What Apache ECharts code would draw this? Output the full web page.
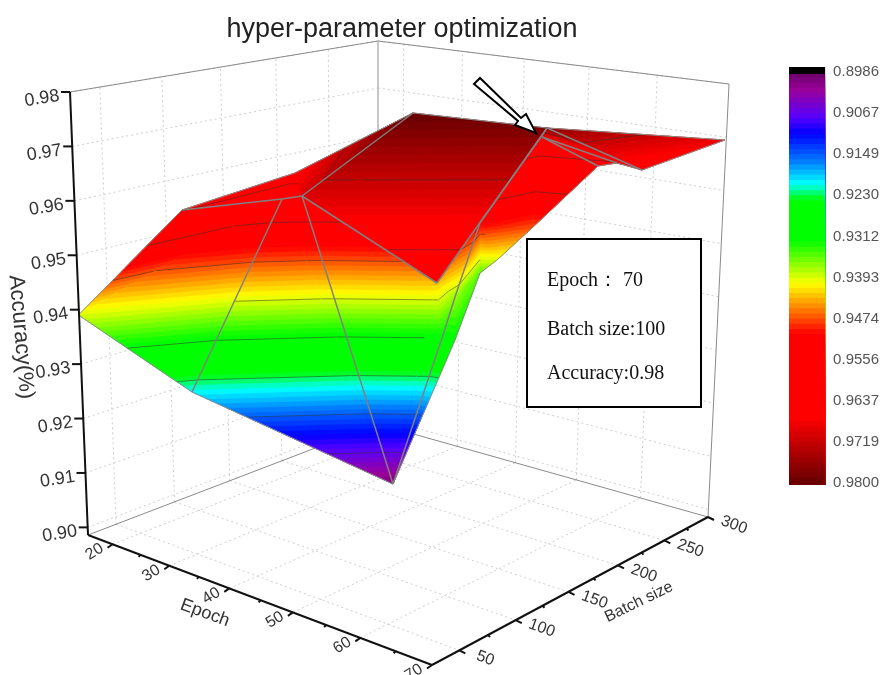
<!DOCTYPE html><html><head><meta charset="utf-8"><style>html,body{margin:0;background:#fff}#c{width:882px;height:675px}</style>
<script src="https://cdn.jsdelivr.net/npm/echarts@6/dist/echarts.min.js"></script></head><body><div id="c"></div><script>
// ---- data ----
const epochTicks=[20,30,40,50,60,70];
const epochMinor=[25,35,45,55,65];
const batchTicks=[50,100,150,200,250,300];
const batchMinor=[75,125,175,225,275];
const accTicks=[0.90,0.91,0.92,0.93,0.94,0.95,0.96,0.97,0.98];
const barTicks=[0.8986,0.9067,0.9149,0.9230,0.9312,0.9393,0.9474,0.9556,0.9637,0.9719,0.9800];
// surface vertices
const vEpoch=[15.95,36.90,37.00,54.29,36.15,34.28,34.32,18.81,44.60,41.26,43.11,44.86,33.14,37.46,43.59,43.04,49.39,54.81,57.32,63.69,68.18,62.54,53.98,66.58,71.06];
const vBatch=[24.63,11.57,101.63,103.68,111.96,104.85,205.66,102.24,185.56,224.27,200.21,202.05,302.01,292.02,288.03,237.16,256.59,278.06,279.97,259.03,313.68,170.80,15.88,142.99,22.04];
const vAcc=[.9393,.964,.966,.98,.9611,.9605,.9,.9205,.9429,.937,.9312,.9312,.935,.9393,.9474,.951,.968,.9625,.9635,.9645,.9685,.976,.97,.978,.9598];
// painter's order, back to front
const faces=[[21,20,19],[21,19,18],[21,18,16],[16,18,17],[1,2,5],[5,2,4],[2,3,22],
 [16,17,14],[16,14,15],[15,14,13],[15,13,12],[15,12,9],[15,9,8],[9,12,11],[9,11,10],[10,11,6],
 [0,1,5],[0,5,7],[5,4,6],[5,6,7],[4,8,6],[8,9,10],[8,10,6],[22,3,23],[22,23,24]];
const outlineEdges=[[0,1],[1,2],[2,3],[3,23],[23,20],[20,19],[19,18],[18,17],[17,14],[14,13],[13,12],[12,11],[11,6],[6,7],[7,0]];
const meshEdges=[[1,5],[5,4],[5,7],[4,6],[4,24],[4,3],[24,23],[23,15],[15,9],[9,10],[10,6],[23,19],[16,18],[16,17]];
const colorStops=[[.8986,'#660066'],[.9022,'#990099'],[.9077,'#5500ff'],[.9108,'#0000ff'],[.9165,'#0080ff'],[.9207,'#00ffff'],[.9240,'#00ff00'],[.9320,'#00ff00'],[.9405,'#ffff00'],[.9455,'#ff8000'],[.9504,'#ff0000'],[.9670,'#ff0000'],[.9800,'#660000']];
const bandCount=80;

// ---- projection of the perspective box ----
const floorQ=[[88,535],[432,665],[708,517],[378,424]],topQ=[[70,92],[436,152],[729,84],[378,41]];
const eMin=15.5,eMax=70,bMin=27,bMax=300,zMin=.8986,zMax=.98;
function H(q){const [p0,p1,p2,p3]=q;const dx1=p1[0]-p2[0],dx2=p3[0]-p2[0],sx=p0[0]-p1[0]+p2[0]-p3[0],dy1=p1[1]-p2[1],dy2=p3[1]-p2[1],sy=p0[1]-p1[1]+p2[1]-p3[1];const D=dx1*dy2-dx2*dy1,g=(sx*dy2-dx2*sy)/D,h=(dx1*sy-sx*dy1)/D;
 return (u,v)=>{const w=g*u+h*v+1;return [((p1[0]-p0[0]+g*p1[0])*u+(p3[0]-p0[0]+h*p3[0])*v+p0[0])/w,((p1[1]-p0[1]+g*p1[1])*u+(p3[1]-p0[1]+h*p3[1])*v+p0[1])/w];};}
const hF=H(floorQ),hT=H(topQ);
function proj(e,b,z){const u=(e-eMin)/(eMax-eMin),v=(b-bMin)/(bMax-bMin),w=(z-zMin)/(zMax-zMin),a=hF(u,v),c=hT(u,v);return [a[0]*(1-w)+c[0]*w,a[1]*(1-w)+c[1]*w];}

// ---- colours ----
function hex(c){return [1,3,5].map(i=>parseInt(c.substr(i,2),16));}
function colorAt(z){for(let i=1;i<colorStops.length;i++){if(z<=colorStops[i][0]){const a=colorStops[i-1],b=colorStops[i],t=Math.max(0,(z-a[0])/(b[0]-a[0])),p=hex(a[1]),q=hex(b[1]);return 'rgb('+p.map((x,k)=>Math.round(x+(q[k]-x)*t)).join(',')+')';}}return colorStops[colorStops.length-1][1];}
const zLo=barTicks[0],zHi=barTicks[barTicks.length-1],bandStep=(zHi-zLo)/bandCount;

// ---- surface cut into colour bands + contour lines ----
function clip(poly,lim,above){const out=[];for(let i=0;i<poly.length;i++){const a=poly[i],b=poly[(i+1)%poly.length],ai=above?a[2]>=lim:a[2]<=lim,bi=above?b[2]>=lim:b[2]<=lim;if(ai)out.push(a);if(ai!==bi){const t=(lim-a[2])/(b[2]-a[2]);out.push([a[0]+(b[0]-a[0])*t,a[1]+(b[1]-a[1])*t,lim]);}}return out;}
const surfaceItems=[];
faces.forEach(f=>{
 const tri=f.map(i=>{const p=proj(vEpoch[i],vBatch[i],vAcc[i]);return [p[0],p[1],vAcc[i]];});
 for(let k=0;k<bandCount;k++){const lo=zLo+k*bandStep;let poly=clip(tri,lo,true);if(poly.length)poly=clip(poly,lo+2*bandStep,false);if(poly.length>2)surfaceItems.push({k:'band',pts:poly.map(p=>[p[0],p[1]]),color:colorAt(lo+bandStep/2)});}
 barTicks.slice(1,-1).forEach(l=>{const s=[];for(let i=0;i<3;i++){const a=tri[i],b=tri[(i+1)%3];if((a[2]-l)*(b[2]-l)<0){const t=(l-a[2])/(b[2]-a[2]);s.push([a[0]+(b[0]-a[0])*t,a[1]+(b[1]-a[1])*t]);}}if(s.length===2)surfaceItems.push({k:'contour',pts:s});});
});
const vp=i=>proj(vEpoch[i],vBatch[i],vAcc[i]);
outlineEdges.forEach(e=>surfaceItems.push({k:'outline',pts:[vp(e[0]),vp(e[1])]}));
meshEdges.forEach(e=>surfaceItems.push({k:'mesh',pts:[vp(e[0]),vp(e[1])]}));

// ---- box, grid lines ----
const frameSegs=[];
const seg=(a,b,k)=>frameSegs.push({a:proj(...a),b:proj(...b),k});
accTicks.forEach(z=>{seg([eMin,bMin,z],[eMin,bMax,z],'grid');seg([eMin,bMax,z],[eMax,bMax,z],'grid');});
batchTicks.slice(0,-1).forEach(b=>{seg([eMin,b,zMin],[eMin,b,zMax],'grid');seg([eMin,b,zMin],[eMax,b,zMin],'grid');});
epochTicks.slice(0,-1).forEach(e=>{seg([e,bMax,zMin],[e,bMax,zMax],'grid');seg([e,bMin,zMin],[e,bMax,zMin],'grid');});
seg([eMin,bMin,zMax],[eMin,bMax,zMax],'box');seg([eMin,bMax,zMax],[eMax,bMax,zMax],'box');seg([eMax,bMax,zMax],[eMax,bMax,zMin],'box');seg([eMin,bMax,zMax],[eMin,bMax,zMin],'boxL');seg([eMin,bMin,zMin],[eMin,bMax,zMin],'box');seg([eMin,bMax,zMin],[eMax,bMax,zMin],'box');

const axisSegs=[];
const aseg=(a,b,dx,dy)=>{const p=proj(...a),q=b?proj(...b):[p[0]+dx,p[1]+dy];axisSegs.push([p,q]);};
aseg([eMin,bMin,zMin],[eMin,bMin,zMax]);aseg([eMin,bMin,zMin],[eMax,bMin,zMin]);aseg([eMax,bMin,zMin],[eMax,bMax,zMin]);
accTicks.forEach(z=>aseg([eMin,bMin,z],null,-9,0));
epochTicks.forEach(e=>aseg([e,bMin,zMin],null,-5,3.5));epochMinor.forEach(e=>aseg([e,bMin,zMin],null,-2,2));
batchTicks.forEach(b=>aseg([eMax,b,zMin],null,6,3));batchMinor.forEach(b=>aseg([eMax,b,zMin],null,2,2));

const F='"Liberation Sans",Arial,sans-serif';
const labels=[];
accTicks.forEach(z=>{const p=proj(eMin,bMin,z);labels.push({x:p[0]-28,y:p[1]+6.5,t:z.toFixed(2),r:9,s:18});});
epochTicks.forEach(e=>{const p=proj(e,bMin,zMin);labels.push({x:p[0]-18,y:p[1]+7.5,t:String(e),r:32,s:16});});
batchTicks.forEach(b=>{const p=proj(eMax,b,zMin);labels.push({x:p[0]+26,y:p[1]+8,t:String(b),r:-20,s:16});});
labels.push({x:205,y:613,t:'Epoch',r:-20,s:18},{x:639,y:602,t:'Batch size',r:26,s:16},{x:21,y:337,t:'Accuracy(%)',r:-85,s:22});

const barBottom=zHi+.0004;
const bands=[[zLo-.0010,barBottom,'#000000']];
for(let k=0;k<bandCount;k++){const lo=zLo+k*bandStep;bands.push([Math.max(lo,zLo+.0004),barBottom,colorAt(lo+bandStep/2)]);}

const chart=echarts.init(document.getElementById('c'),null,{renderer:'canvas'});
const lineSt={grid:{stroke:'#cfcfcf',lineWidth:1,lineDash:[2,3]},box:{stroke:'#8a8a8a',lineWidth:1},boxL:{stroke:'#b5b5b5',lineWidth:1.5}};
const itemSt={contour:{stroke:'rgba(50,50,50,.65)',lineWidth:.8},outline:{stroke:'#8c8c8c',lineWidth:1},mesh:{stroke:'#808080',lineWidth:1.5}};
chart.setOption({
 animation:false,backgroundColor:'#fff',
 title:{text:'hyper-parameter optimization',left:397,top:11,textAlign:'center',textStyle:{fontFamily:F,fontSize:27,fontWeight:'normal',color:'#222'}},
 grid:[{left:0,top:0,right:0,bottom:0},{left:789,top:67,width:40,height:418}],
 xAxis:[{type:'value',min:0,max:882,show:false},{type:'value',gridIndex:1,min:0,max:1,show:false}],
 yAxis:[{type:'value',min:0,max:675,inverse:true,show:false},
  {type:'value',gridIndex:1,min:zLo-.0010,max:barBottom,inverse:true,position:'right',splitLine:{show:false},axisLine:{show:false},axisTick:{show:false},
   axisLabel:{show:true,customValues:barTicks,formatter:v=>v.toFixed(4),margin:8,fontFamily:F,fontSize:15,color:'#555'}}],
 series:[
  {type:'custom',silent:true,clip:false,z:1,data:frameSegs.map((s,i)=>[i]),renderItem(p,api){const s=frameSegs[api.value(0)],a=api.coord(s.a),b=api.coord(s.b);return {type:'line',shape:{x1:a[0],y1:a[1],x2:b[0],y2:b[1]},style:lineSt[s.k]};}},
  {type:'custom',silent:true,clip:false,z:2,data:surfaceItems.map((s,i)=>[i]),renderItem(p,api){const s=surfaceItems[api.value(0)],pts=s.pts.map(q=>api.coord(q));if(s.k==='band')return {type:'polygon',shape:{points:pts},style:{fill:s.color,stroke:s.color,lineWidth:.5,lineJoin:'round'}};return {type:'polyline',shape:{points:pts},style:Object.assign({fill:null},itemSt[s.k])};}},
  {type:'custom',silent:true,clip:false,z:3,data:axisSegs.map((s,i)=>[i]),renderItem(p,api){const s=axisSegs[api.value(0)],a=api.coord(s[0]),b=api.coord(s[1]);return {type:'line',shape:{x1:a[0],y1:a[1],x2:b[0],y2:b[1]},style:{stroke:'#111',lineWidth:2}};}},
  {type:'custom',silent:true,clip:false,z:4,data:labels.map((s,i)=>[i]),renderItem(p,api){const s=labels[api.value(0)],a=api.coord([s.x,s.y]);return {type:'text',x:a[0],y:a[1],rotation:s.r*Math.PI/180,style:{text:s.t,fill:'#333',font:s.s+'px '+F,textAlign:'center',textVerticalAlign:'middle'}};}},
  {type:'custom',silent:true,clip:false,z:2,xAxisIndex:1,yAxisIndex:1,data:bands.map((b,i)=>[0,b[0],1,b[1],i]),renderItem(p,api){const a=api.coord([api.value(0),api.value(1)]),b=api.coord([api.value(2),api.value(3)]),c=bands[api.value(4)][2];return {type:'rect',shape:{x:a[0],y:a[1],width:b[0]-a[0],height:b[1]-a[1]},style:{fill:c}};}}
 ],
 graphic:[
  {type:'rect',z:100,shape:{x:527,y:239,width:174,height:168},style:{fill:'#fff',stroke:'#000',lineWidth:2}},
  {type:'text',z:101,x:547,y:281,style:{text:'Epoch： 70',font:'20px "Liberation Serif",serif',fill:'#111',textVerticalAlign:'middle'}},
  {type:'text',z:101,x:547,y:330,style:{text:'Batch size:100',font:'20px "Liberation Serif",serif',fill:'#111',textVerticalAlign:'middle'}},
  {type:'text',z:101,x:547,y:374,style:{text:'Accuracy:0.98',font:'20px "Liberation Serif",serif',fill:'#111',textVerticalAlign:'middle'}},
  {type:'polygon',z:101,shape:{points:[[474,84],[480,78],[521,118],[526,114],[536,133],[515,125],[518,121]]},style:{fill:'#fff',stroke:'#000',lineWidth:2}}
 ]
});
</script></body></html>
